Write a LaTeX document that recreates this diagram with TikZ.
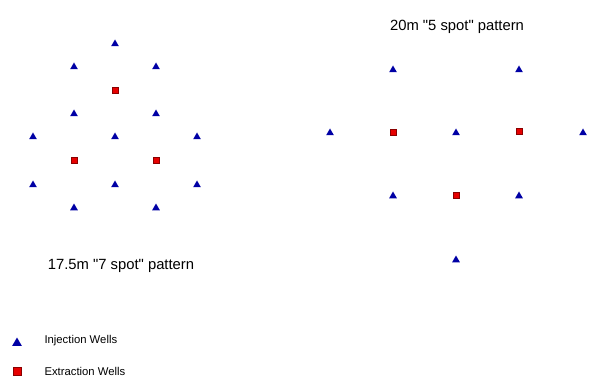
\documentclass[tikz,border=0pt]{standalone}
\usepackage{fontspec}
\setmainfont{Liberation Sans}[Ligatures=TeXOff]
\usetikzlibrary{shapes.geometric}

\definecolor{wellblue}{RGB}{0,0,165}
\definecolor{wellred}{RGB}{230,0,0}

\tikzset{
  inj/.style={regular polygon, regular polygon sides=3, fill=wellblue, draw=none,
    inner sep=0pt, minimum size=9pt, yshift=-1pt},
  ext/.style={rectangle, fill=wellred, draw=wellred!60!black, line width=0.4pt,
    inner sep=0pt, minimum size=6.5pt},
  title/.style={font=\fontsize{14.8}{17}\selectfont, text=black},
  legend/.style={font=\fontsize{11.3}{13}\selectfont, anchor=west}
}

\begin{document}
\begin{tikzpicture}[x=1pt, y=-1pt]
  \useasboundingbox (0,0) rectangle (601,379);

  % 7 spot pattern
  \foreach \x/\y [count=\n] in {115/43, 74/66, 156/66, 74/113, 156/113, 33/136, 115/136,
      197/136, 33/184, 115/184, 197/184, 74/207, 156/207}
    \node[inj] (a\n) at (\x,\y) {};
  \foreach \x/\y [count=\n] in {115/90, 74/160, 156/160}
    \node[ext] (b\n) at (\x,\y) {};
  \node[title] (seven) at (121,266) {17.5m "7 spot" pattern};

  % 5 spot pattern
  \foreach \x/\y [count=\n] in {393/69, 519/69, 330/132, 456/132, 583/132, 393/195,
      519/195, 456/259}
    \node[inj] (c\n) at (\x,\y) {};
  \foreach \x/\y [count=\n] in {393/132, 519/131, 456/195}
    \node[ext] (d\n) at (\x,\y) {};
  \node[title] (five) at (457,27) {20m "5 spot" pattern};

  % legend
  \node[inj, minimum size=11pt] (li) at (17,342) {};
  \node[ext, minimum size=8.5pt] (le) at (17,371) {};
  \node[legend] (lit) at (41,341) {Injection Wells};
  \node[legend] (let) at (41,371) {Extraction Wells};
\end{tikzpicture}
\end{document}
